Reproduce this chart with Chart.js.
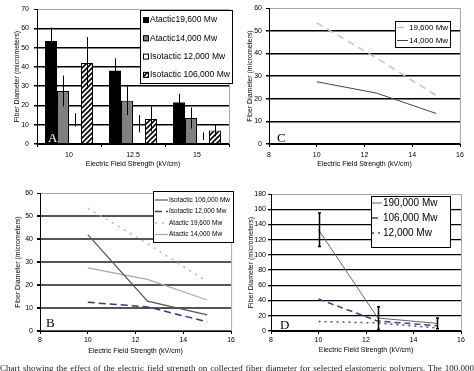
<!DOCTYPE html>
<html><head><meta charset="utf-8">
<script src="https://cdn.jsdelivr.net/npm/chart.js@4/dist/chart.umd.min.js"></script>
<style>
html,body{margin:0;padding:0;background:#fff;width:474px;height:371px;overflow:hidden;position:relative}
canvas{position:absolute}
#cap{position:absolute;left:0;top:363px;width:474px;font:9px "Liberation Serif";line-height:10px;white-space:nowrap;text-align:justify;text-align-last:justify;color:#222}
</style></head><body>
<canvas id="cA" width="237" height="180" style="left:0;top:0"></canvas>
<canvas id="cC" width="237" height="180" style="left:237px;top:0"></canvas>
<canvas id="cB" width="237" height="186" style="left:0;top:185px"></canvas>
<canvas id="cD" width="237" height="186" style="left:237px;top:185px"></canvas>
<div id="cap">Chart showing the effect of the electric field strength on collected fiber diameter for selected elastomeric polymers. The 100,000</div>
<script>
// ---- data ----
const fieldLabels = ['10', '12.5', '15'];
const fieldValues = [10, 12.5, 15];
const atactic19600 = [53.5, 38, 21.5];
const atactic19600Err = [7, 6.5, 4.5];
const atactic14000 = [27.5, 22.5, 13.5];
const atactic14000Err = [8, 7.5, 5.5];
const isotactic12000 = [12.5, 10.5, 4];
const isotactic12000Err = [3.5, 4.5, 2];
const isotactic106000 = [42, 13, 7];
const isotactic106000Err = [13.5, 6.5, 3];
const isotactic190000 = [133, 17, 10];
const isotactic190000Err = [22, 15, 7];
const xTickValues = [8, 10, 12, 14, 16];
const yTitle = 'Fiber Diameter (micrometers)';
const xTitle = 'Electric Field Strength (kV/cm)';

const FONT = 'Liberation Sans';
Chart.defaults.font.family = FONT;
Chart.defaults.color = '#000';

const pts = arr => fieldValues.map((x, i) => ({x, y: arr[i]}));

function hatch(){
  const c=document.createElement('canvas'); c.width=5; c.height=5;
  const g=c.getContext('2d'); g.fillStyle='#fff'; g.fillRect(0,0,5,5);
  g.strokeStyle='#000'; g.lineWidth=1.6; g.beginPath();
  g.moveTo(-1,6); g.lineTo(6,-1); g.moveTo(-1,1); g.lineTo(1,-1); g.moveTo(4,6); g.lineTo(6,4);
  g.stroke(); return g.createPattern(c,'repeat');
}

const errorBars = {
  id:'errorBars',
  afterDatasetsDraw(chart, args, o){
    const ctx=chart.ctx, y=chart.scales.y;
    chart.data.datasets.forEach((ds,di)=>{
      if(!ds.errors) return;
      const meta=chart.getDatasetMeta(di);
      ctx.save(); ctx.strokeStyle=o.color||'#000'; ctx.lineWidth=o.width||1;
      meta.data.forEach((el,i)=>{
        const v=ds.data[i]; const val=(typeof v==='object')?v.y:v; const e=ds.errors[i];
        const top=y.getPixelForValue(val+e), bot=y.getPixelForValue(val-e);
        const x=Math.round(el.x)+0.5;
        ctx.beginPath(); ctx.moveTo(x,top); ctx.lineTo(x,bot);
        if(o.cap){ctx.moveTo(x-o.cap,top);ctx.lineTo(x+o.cap,top);ctx.moveTo(x-o.cap,bot);ctx.lineTo(x+o.cap,bot);}
        ctx.stroke();
      });
      ctx.restore();
    });
  }
};

const frame = {
  id:'frame',
  beforeDatasetsDraw(chart){
    const a=chart.chartArea, ctx=chart.ctx;
    ctx.save(); ctx.strokeStyle='#aaa'; ctx.lineWidth=1;
    ctx.beginPath(); ctx.moveTo(a.right+0.5,a.top); ctx.lineTo(a.right+0.5,a.bottom); ctx.stroke();
    ctx.restore();
  }
};

const boxLegend = {
  id:'boxLegend',
  afterDraw(chart, args, o){
    if(!o || !o.w) return;
    const ctx=chart.ctx; ctx.save();
    ctx.fillStyle='#fff'; ctx.fillRect(o.x,o.y,o.w,o.h);
    ctx.strokeStyle='#000'; ctx.lineWidth=1; ctx.strokeRect(o.x+0.5,o.y+0.5,o.w,o.h);
    ctx.font=o.font; ctx.textBaseline='middle';
    chart.data.datasets.forEach((ds,i)=>{
      const ry=o.y+o.row0+i*o.gap;
      if(o.kind==='box'){
        ctx.fillStyle=ds.legendFill||ds.backgroundColor;
        ctx.fillRect(o.mx,ry-3,6,6);
        ctx.strokeStyle='#000'; ctx.lineWidth=1; ctx.strokeRect(o.mx+0.5,ry-2.5,5,5);
      } else {
        ctx.strokeStyle=ds.borderColor; ctx.lineWidth=ds.borderWidth||1;
        ctx.setLineDash(ds.borderDash||[]);
        ctx.beginPath(); ctx.moveTo(o.mx,ry); ctx.lineTo(o.mx+o.ml,ry); ctx.stroke();
        ctx.setLineDash([]);
      }
      ctx.fillStyle='#000'; ctx.fillText(ds.label,o.tx,ry);
    });
    ctx.restore();
  }
};

const panelLetter = {
  id:'panelLetter',
  afterDatasetsDraw(chart, args, o){
    if(!o || !o.text) return;
    const a=chart.chartArea, ctx=chart.ctx; ctx.save();
    ctx.font='13px "Liberation Serif"'; ctx.fillStyle=o.color||'#000'; ctx.textBaseline='alphabetic';
    ctx.fillText(o.text,a.left+o.dx,a.bottom-o.dy); ctx.restore();
  }
};

function yAxis(max, step, width, titlePad, tickPad, gridColor, gridWidth){
  return {
    min:0, max:max,
    ticks:{stepSize:step, padding:tickPad, font:{size:7}, color:'#000'},
    grid:{
      color: c => (c.tick && c.tick.value===max) ? '#aaa' : gridColor,
      lineWidth: c => (c.tick && c.tick.value===max) ? 1 : gridWidth,
      tickLength:3, tickColor:'#000'
    },
    border:{color:'#000', width:1},
    title:{display:true, text:yTitle, font:{size:7}, color:'#000', padding:{top:titlePad, bottom:0}},
    afterFit: s => { s.width = width; }
  };
}
function xLinear(height, tickPad, titleBottom){
  return {
    type:'linear', min:8, max:16,
    afterBuildTicks: s => { s.ticks = xTickValues.map(v => ({value:v})); },
    ticks:{padding:tickPad, font:{size:7}, color:'#000'},
    grid:{drawOnChartArea:false, tickLength:3, color:'#000'},
    border:{color:'#000', width:1},
    title:{display:true, text:xTitle, font:{size:7}, color:'#000', padding:{top:0, bottom:titleBottom}},
    afterFit: s => { s.height = height; }
  };
}
const basePlugins = {legend:{display:false}, tooltip:{enabled:false}};

// ---- Panel A ----
new Chart(document.getElementById('cA'), {
  type:'bar',
  data:{labels:fieldLabels, datasets:[
    {label:'Atactic19,600 Mw', data:atactic19600, errors:atactic19600Err, backgroundColor:'#000', borderColor:'#000', borderWidth:0},
    {label:'Atactic14,000 Mw', data:atactic14000, errors:atactic14000Err, backgroundColor:'#808080', borderColor:'#000', borderWidth:1},
    {label:'Isotactic 12,000 Mw', data:isotactic12000, errors:isotactic12000Err, backgroundColor:'rgba(255,255,255,0)', legendFill:'#fff', borderWidth:0},
    {label:'Isotactic 106,000 Mw', data:isotactic106000, errors:isotactic106000Err, backgroundColor:hatch(), borderColor:'#000', borderWidth:1}
  ]},
  options:{
    responsive:false, animation:false,
    layout:{padding:{left:0,right:8,top:5,bottom:0}},
    datasets:{bar:{categoryPercentage:0.75, barPercentage:1}},
    scales:{
      x:{ticks:{padding:4, font:{size:7}, color:'#000'},
         grid:{drawOnChartArea:false, tickLength:3, color:'#000', offset:true},
         border:{color:'#000'},
         title:{display:true, text:xTitle, font:{size:7}, color:'#000', padding:{top:0,bottom:12}},
         afterFit: s => { s.height = 36; }},
      y: yAxis(70, 10, 37, 13, 5, '#000', 1.5)
    },
    plugins:{...basePlugins,
      errorBars:{width:1},
      boxLegend:{kind:'box', x:140, y:10, w:92, h:73, row0:10, gap:18.3, mx:143, tx:150, font:'8.5px "Liberation Sans"'},
      panelLetter:{text:'A', dx:11, dy:2, color:'#fff'}
    }
  },
  plugins:[frame, errorBars, boxLegend, panelLetter]
});

// ---- Panel C ----
new Chart(document.getElementById('cC'), {
  type:'line',
  data:{datasets:[
    {label:'19,600 Mw', data:pts(atactic19600), borderColor:'#c4c4c4', borderWidth:1.5, borderDash:[7,5]},
    {label:'14,000 Mw', data:pts(atactic14000), borderColor:'#444', borderWidth:1}
  ]},
  options:{
    responsive:false, animation:false,
    layout:{padding:{left:0,right:14,top:6,bottom:0}},
    elements:{point:{radius:0}, line:{tension:0}},
    scales:{ x:xLinear(36,4,12), y:yAxis(60,10,32,9,4,'#000',1.5) },
    plugins:{...basePlugins,
      boxLegend:{kind:'line', x:158, y:21, w:55, h:26, row0:6.5, gap:13, mx:160, ml:11, tx:172, font:'8px "Liberation Sans"'},
      panelLetter:{text:'C', dx:8, dy:2}
    }
  },
  plugins:[frame, boxLegend, panelLetter]
});

// ---- Panel B ----
new Chart(document.getElementById('cB'), {
  type:'line',
  data:{datasets:[
    {label:'Isotactic 106,000 Mw', data:pts(isotactic106000), borderColor:'#555', borderWidth:1.2},
    {label:'Isotactic 12,000 Mw', data:pts(isotactic12000), borderColor:'#3a3a82', borderWidth:1.5, borderDash:[7,4]},
    {label:'Atactic 19,600 Mw', data:pts(atactic19600), borderColor:'#c6b2bc', borderWidth:1.5, borderDash:[2,5]},
    {label:'Atactic 14,000 Mw', data:pts(atactic14000), borderColor:'#aaa', borderWidth:1.2}
  ]},
  options:{
    responsive:false, animation:false,
    layout:{padding:{left:0,right:4,top:8,bottom:0}},
    elements:{point:{radius:0}, line:{tension:0}},
    scales:{ x:xLinear(40,2,16), y:yAxis(60,10,40,14,4,'#555',2) },
    plugins:{...basePlugins,
      boxLegend:{kind:'line', x:153, y:6, w:80, h:51, row0:9, gap:11.5, mx:155, ml:13, tx:169, font:'6.5px "Liberation Sans"'},
      panelLetter:{text:'B', dx:6, dy:4}
    }
  },
  plugins:[frame, boxLegend, panelLetter]
});

// ---- Panel D ----
new Chart(document.getElementById('cD'), {
  type:'line',
  data:{datasets:[
    {label:'190,000 Mw', data:pts(isotactic190000), errors:isotactic190000Err, borderColor:'#666', borderWidth:1},
    {label:'106,000 Mw', data:pts(isotactic106000), borderColor:'#40408c', borderWidth:1.5, borderDash:[6,4]},
    {label:'12,000 Mw', data:pts(isotactic12000), borderColor:'#4a4a92', borderWidth:1.5, borderDash:[2,4]}
  ]},
  options:{
    responsive:false, animation:false,
    layout:{padding:{left:0,right:13,top:9,bottom:0}},
    elements:{point:{radius:0}, line:{tension:0}},
    scales:{ x:xLinear(40,2,17), y:yAxis(180,20,34,10,2,'#000',1.3) },
    plugins:{...basePlugins,
      errorBars:{width:1.5, cap:1.5},
      boxLegend:{kind:'line', x:134, y:11, w:79, h:51, row0:7, gap:15, mx:135, ml:10, tx:146, font:'10px "Liberation Sans"'},
      panelLetter:{text:'D', dx:9, dy:2}
    }
  },
  plugins:[frame, errorBars, boxLegend, panelLetter]
});
</script>
</body></html>
